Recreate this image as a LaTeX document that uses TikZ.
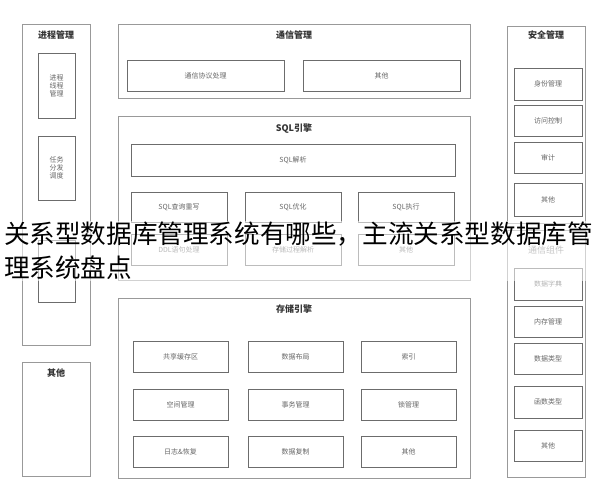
\documentclass[tikz,border=0pt]{standalone}
\usepackage{fontspec}
\setmainfont{Noto Sans CJK SC}
\begin{document}
\begin{tikzpicture}[x=1pt, y=-1pt,
    frame/.style={draw=gray!80, line width=0.9pt, rectangle, inner sep=0pt},
    box/.style={draw=gray!85!black, line width=1pt, rectangle, inner sep=0pt,
                font=\fontsize{7}{8}\selectfont, text=gray!80!black, align=center},
    title/.style={font=\bfseries\fontsize{9}{10}\selectfont, text=black!80}
]
\useasboundingbox (0,0) rectangle (608,490);
% left column
\node (procframe) [frame, minimum width=68pt, minimum height=321pt] at (56,184.5) {};
\node (proctitle) [title] at (56,35) {进程管理};
\node (thread) [box, minimum width=37pt, minimum height=65pt] at (56.5,85.5) {进程\\线程\\管理};
\node (task) [box, minimum width=37pt, minimum height=64pt] at (56.5,168) {任务\\分发\\调度};
\node (hidden) [box, minimum width=37pt, minimum height=62pt] at (56.5,271) {};
\node (leftother) [frame, minimum width=68pt, minimum height=114pt] at (56,419) {};
\node (leftothertitle) [title] at (56,373) {其他};
% communication
\node (commframe) [frame, minimum width=352pt, minimum height=74pt] at (294,61) {};
\node (commtitle) [title] at (294,35) {通信管理};
\node (protocol) [box, minimum width=157pt, minimum height=31pt] at (205.5,75.5) {通信协议处理};
\node (commother) [box, minimum width=157pt, minimum height=31pt] at (381.5,75.5) {其他};
% SQL engine
\node (sqlframe) [frame, minimum width=352pt, minimum height=164pt] at (294,198) {};
\node (sqltitle) [title] at (294,129) {SQL引擎};
\node (parse) [box, minimum width=324pt, minimum height=32pt] at (293,160) {SQL解析};
\node (rewrite) [box, minimum width=96pt, minimum height=30pt] at (179,207) {SQL查询重写};
\node (optimize) [box, minimum width=96pt, minimum height=30pt] at (293,207) {SQL优化};
\node (execute) [box, minimum width=96pt, minimum height=30pt] at (406,207) {SQL执行};
\node (ddl) [box, minimum width=96pt, minimum height=31pt] at (179,249.5) {DDL语句处理};
\node (proc) [box, minimum width=96pt, minimum height=31pt] at (293,249.5) {存储过程解析};
\node (sqlother) [box, minimum width=96pt, minimum height=31pt] at (406,249.5) {其他};
% storage engine
\node (storeframe) [frame, minimum width=352pt, minimum height=180pt] at (294,388) {};
\node (storetitle) [title] at (294,309) {存储引擎};
\foreach \name/\txt/\x/\y in {
    buffer/共享缓存区/180.5/356.5, layout/数据布局/295.5/356.5, index/索引/408.5/356.5,
    space/空间管理/180.5/404.5, trans/事务管理/295.5/404.5, lock/锁管理/408.5/404.5,
    log/日志\&恢复/180.5/451.5, repl/数据复制/295.5/451.5, storeother/其他/408.5/451.5}
  \node (\name) [box, minimum width=95pt, minimum height=31pt] at (\x,\y) {\txt};
% right column
\node (secframe) [frame, minimum width=78pt, minimum height=197pt] at (546,124.5) {};
\node (sectitle) [title] at (546,35) {安全管理};
\node (auth) [box, minimum width=68pt, minimum height=32pt] at (548,84) {身份管理};
\node (access) [box, minimum width=68pt, minimum height=31pt] at (548,120.5) {访问控制};
\node (audit) [box, minimum width=68pt, minimum height=31pt] at (548,157.5) {审计};
\node (secother) [box, minimum width=68pt, minimum height=33pt] at (548,199.5) {其他};
\node (compframe) [frame, minimum width=78pt, minimum height=247pt] at (546,353.5) {};
\node (comptitle) [title, font=\fontsize{9}{10}\selectfont, text=gray] at (546,250) {通信组件};
\node (dict) [box, minimum width=68pt, minimum height=32pt, text=gray!60] at (548,284) {数据字典};
\node (mem) [box, minimum width=68pt, minimum height=31pt] at (548,321.5) {内存管理};
\node (dtype) [box, minimum width=68pt, minimum height=31pt] at (548,358.5) {数据类型};
\node (ftype) [box, minimum width=68pt, minimum height=32pt] at (548,402) {函数类型};
\node (compother) [box, minimum width=68pt, minimum height=31pt] at (548,445.5) {其他};
% overlay caption
\node (caption) [anchor=north west, align=left, inner sep=1pt, font=\fontsize{25.6}{34}\selectfont,
      fill=white, fill opacity=0.55, text opacity=1] at (3,221)
  {关系型数据库管理系统有哪些，主流关系型数据库管\\理系统盘点};
\end{tikzpicture}
\end{document}
